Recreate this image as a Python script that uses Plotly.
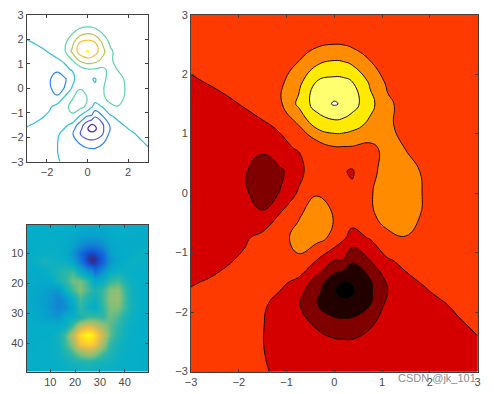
import plotly.graph_objects as go

W, H = 494, 394
MARGIN = 5
x_nodes = [-3, -2.625, -2.25, -1.875, -1.5, -1.125, -.75, -.375, 0, .2, .375, .75, 1.125, 1.5, 1.875, 2.25, 2.625, 3]
y_nodes = [-3, -2.625, -2.25, -1.875, -1.65, -1.5, -1.125, -.75, -.375, 0, .375, .75, 1.125, 1.5, 1.875, 2.25, 2.625, 3]

# Surface heights estimated from where the contour lines cross each grid line in the picture.
row_m300 = [.001, .003, .006, .01, .011, -.02, -.08, -.2, -.3, -.3, -.3, -.2, -.08, -.05, -.05, -.05, -.06, -.08]
row_m262 = [.002, .006, .015, .02, .009, -.1, -.45, -.9, -1.15, -1.2, -1.2, -.95, -.5, -.18, -.1, -.15, -.2, -.37]
row_m225 = [.003, .01, .03, .05, .022, -.25, -1.0, -2.1, -2.9, -3.0, -3.0, -2.1, -1.0, -.4, -.3, -.2, -.27, .25]
row_m188 = [.004, .02, .06, .13, .124, -.3, -1.8, -3.9, -5.4, -5.6, -5.4, -4.05, -1.4, -.5, -.3, -.19, .4, .1]
row_m165 = [.08, .2, .5, .4, .25, -.022, -1.3, -3.3, -5.95, -6.55, -6.35, -4.3, -1.95, -.6, -.19, .38, .15, .05]
row_m150 = [-.09, .1, .59, .4, .35, .4, -.5, -2.9, -5.3, -6.2, -5.9, -4.3, -1.7, -.37, .125, .2, .1, .03]
row_m112 = [-.2, -.43, -.23, .35, .8, 1.35, 1.75, .05, -1.9, -2.1, -3.7, -1.95, -.135, .4, .2, .06, .03, .01]
row_m075 = [-.2, -.35, -.5, -.29, .64, 1.4, 2.6, 2.7, 1.5, .25, -.65, .15, 1.5, 1.9, .9, .2, .03, .002]
row_m038 = [-.3, -.6, -.95, -1.45, -1.75, .26, 1.8, 3.0, 1.9, 1.3, .85, 1.6, 2.9, 3.15, 1.7, .4, .06, .003]
row_p000 = [-.4, -.8, -1.3, -1.75, -2.8, -1.9, .23, 1.85, 1.0, .55, .25, 1.8, 3.1, 3.4, 1.85, .5, .07, .004]
row_p038 = [-.35, -.75, -1.3, -1.85, -2.75, -2.3, -.72, 1.53, .35, .1, -.15, 1.4, 2.85, 2.8, 1.75, .5, .07, .004]
row_p075 = [-.25, -.55, -1.0, -1.4, -1.75, -.306, .111, .6, 1.7, 1.7, 1.7, 1.5, 2.6, 1.95, .9, .2, .03, .002]
row_p112 = [-.1, -.2, -.2, -.087, -.175, .153, 1.85, 4.4, 5.1, 5.0, 4.6, 3.5, 2.3, 1.4, .5, .1, .015, .001]
row_p150 = [-.03, -.06, -.04, .02, .45, 1.75, 4.4, 6.9, 8.2, 7.7, 6.9, 4.6, 2.4, 1.2, .4, .08, .01, .001]
row_p188 = [-.02, .01, .067, .1, .4, 1.6, 3.4, 6.0, 6.6, 6.5, 6.0, 3.7, 1.55, .6, .15, .03, .005, .001]
row_p225 = [.04, .03, .03, .06, .25, .85, 1.85, 3.2, 3.85, 3.7, 3.3, 1.9, 1.0, .35, .1, .03, .01, .005]
row_p262 = [.02, .03, .04, .06, .12, .3, .7, .9, 1.1, 1.05, .8, .6, .45, .15, .06, .03, .02, .01]
row_p300 = [.01, .01, .02, .03, .05, .1, .2, .3, .35, .33, .3, .2, .1, .05, .03, .02, .01, .01]

z = [row_m300, row_m262, row_m225, row_m188, row_m165, row_m150, row_m112, row_m075, row_m038,
     row_p000, row_p038, row_p075, row_p112, row_p150, row_p188, row_p225, row_p262, row_p300]

image_x = [1 + (v + 3) * 8 for v in x_nodes]
image_y = [1 + (v + 3) * 8 for v in y_nodes]

hot_bands = ["#000000", "#220000", "#800000", "#d40000", "#ff3a00", "#ff8c00", "#ffea00", "#ffff70", "#ffffff"]
line_colors = ["#4a2f9e", "#4b56e8", "#2f86ec", "#2fbcd8", "#5ed2aa", "#b9c454", "#fdbf3e", "#f9fb15"]
parula_image = [[0, "#352a87"], [.125, "#0f5cdd"], [.25, "#1481d6"], [.375, "#06a4ca"], [.447, "#05aec8"],
                [.55, "#2eb7a4"], [.65, "#87bf77"], [.78, "#d1bb59"], [.88, "#fec832"], [1, "#f9fb0e"]]


def scale(colors):
    return [[i / (len(colors) - 1), c] for i, c in enumerate(colors)]


fig = go.Figure()
fig.add_trace(go.Contour(x=x_nodes, y=y_nodes, z=z, xaxis="x", yaxis="y", showscale=False,
                         zmin=-6, zmax=8, colorscale=scale(line_colors), autocontour=False,
                         contours=dict(start=-6, end=8, size=2, coloring="lines"),
                         line=dict(width=1.2, smoothing=1.3), hoverinfo="skip"))
fig.add_trace(go.Heatmap(x=image_x, y=image_y, z=z, xaxis="x2", yaxis="y2", showscale=False,
                         zmin=-6.55, zmax=8.1, colorscale=parula_image, zsmooth="best", hoverinfo="skip"))
fig.add_trace(go.Contour(x=x_nodes, y=y_nodes, z=z, xaxis="x3", yaxis="y3", showscale=False,
                         zmin=-7, zmax=9, colorscale=scale(hot_bands), autocontour=False,
                         contours=dict(start=-6, end=8, size=2, coloring="fill"),
                         line=dict(width=1, color="#1a0a00", smoothing=1.3), hoverinfo="skip"))


def ax(px0, px1, total, rng, tickvals, **kw):
    usable = total - 2 * MARGIN
    return dict(domain=[(px0 - MARGIN) / usable, (px1 - MARGIN) / usable], range=rng, tickmode="array",
                tickvals=tickvals, ticks="inside", ticklen=3, tickwidth=1, tickcolor="#404040",
                linecolor="#404040", linewidth=1, mirror="ticks", showgrid=False, zeroline=False, showline=True,
                tickfont=dict(family="Liberation Sans", size=11, color="#4a4a4a"), **kw)


def ay(top, bottom, rng, tickvals, **kw):
    return ax(H - bottom, H - top, H, rng, tickvals, **kw)


full = [-3, -2, -1, 0, 1, 2, 3]
fig.update_layout(
    width=W, height=H, margin=dict(l=MARGIN, r=MARGIN, t=MARGIN, b=MARGIN, autoexpand=False),
    paper_bgcolor="white", plot_bgcolor="white", showlegend=False,
    xaxis=ax(26.7, 148.3, W, [-3, 3], [-2, 0, 2], anchor="y"),
    yaxis=ay(14.7, 161.7, [-3, 3], full, anchor="x"),
    xaxis2=ax(26.7, 148.3, W, [.5, 49.5], [10, 20, 30, 40], anchor="y2"),
    yaxis2=ay(224.7, 371.7, [49.5, .5], [10, 20, 30, 40], anchor="x2"),
    xaxis3=ax(191, 477.5, W, [-3, 3], full, anchor="y3"),
    yaxis3=ay(14.7, 371.5, [-3, 3], full, anchor="x3"),
    annotations=[dict(text="CSDN @jk_101", xref="paper", yref="paper",
                      x=(478 - MARGIN) / (W - 2 * MARGIN), y=1 - (378 - MARGIN) / (H - 2 * MARGIN),
                      xanchor="right", yanchor="middle", showarrow=False,
                      font=dict(family="Liberation Sans", size=11, color="#8c8c8c"))],
)
fig.write_html("out.html", config={"displayModeBar": False}, post_script="document.body.style.margin='0';")
